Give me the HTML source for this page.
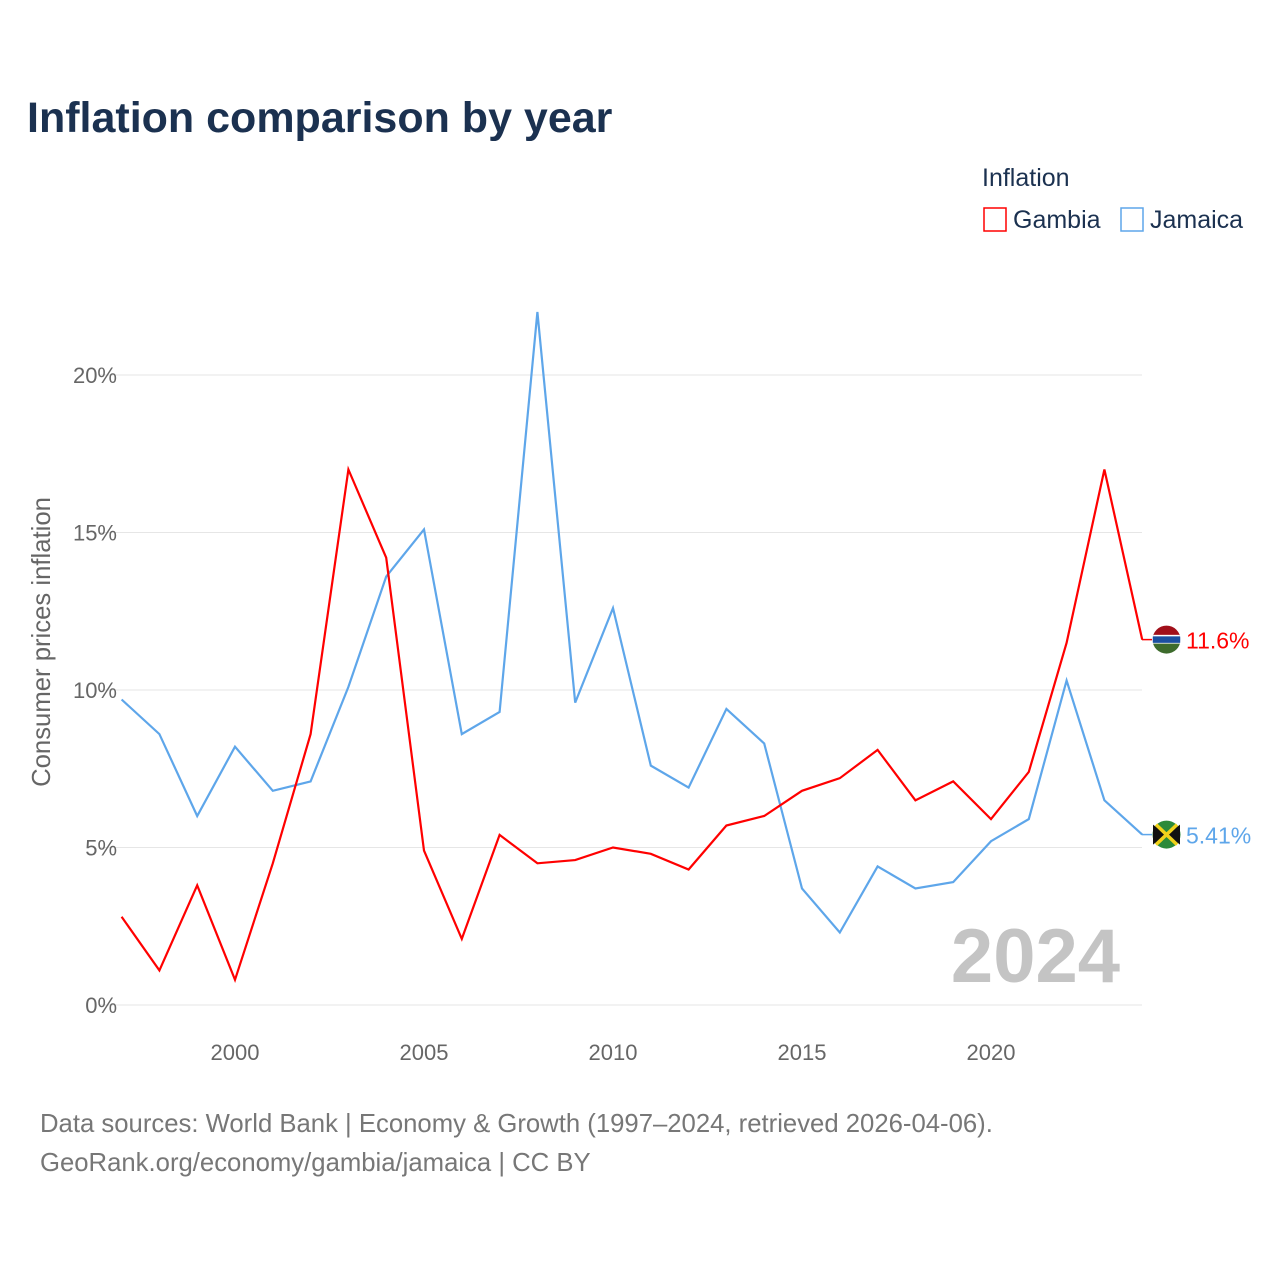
<!DOCTYPE html>
<html><head><meta charset="utf-8">
<style>
body{margin:0;background:#fff;font-family:"Liberation Sans",sans-serif;}
#wrap{position:relative;width:1280px;height:1280px;}
</style></head>
<body><div id="wrap">
<svg id="chart" width="1280" height="1280" xmlns="http://www.w3.org/2000/svg">
<defs><clipPath id="gclip"><circle id="gcirc" cx="1166.5" cy="0" r="14"/></clipPath></defs>
<text x="27" y="132" font-size="43" font-weight="bold" fill="#1b3150">Inflation comparison by year</text>
<text x="982" y="186" font-size="25" fill="#1b3150">Inflation</text>
<g><rect x="984" y="208" width="22" height="23" fill="none" stroke="#ff0000" stroke-width="1.5"/><text x="1013" y="228" font-size="25" fill="#1b3150">Gambia</text></g>
<g><rect x="1121" y="208" width="22" height="23" fill="none" stroke="#5ea6ea" stroke-width="1.5"/><text x="1150" y="228" font-size="25" fill="#1b3150">Jamaica</text></g>
<text transform="translate(50,642) rotate(-90)" text-anchor="middle" font-size="25.7" fill="#666">Consumer prices inflation</text>
<g id="grid"></g><g id="yt"></g><g id="xt"></g>
<text x="1120" y="982" text-anchor="end" font-size="76" font-weight="bold" fill="#c4c4c4">2024</text>
<g id="series"></g>
<text x="40" y="1132" font-size="25.7" fill="#777">Data sources: World Bank | Economy &amp; Growth (1997–2024, retrieved 2026-04-06).</text>
<text x="40" y="1171" font-size="25.7" fill="#777">GeoRank.org/economy/gambia/jamaica | CC BY</text>
</svg></div>
<script>
const years=[1997,1998,1999,2000,2001,2002,2003,2004,2005,2006,2007,2008,2009,2010,2011,2012,2013,2014,2015,2016,2017,2018,2019,2020,2021,2022,2023,2024];
const gambia=[2.8,1.1,3.8,0.8,4.5,8.6,17.0,14.2,4.9,2.1,5.4,4.5,4.6,5.0,4.8,4.3,5.7,6.0,6.8,7.2,8.1,6.5,7.1,5.9,7.4,11.5,17.0,11.6];
const jamaica=[9.7,8.6,6.0,8.2,6.8,7.1,10.1,13.6,15.1,8.6,9.3,22.0,9.6,12.6,7.6,6.9,9.4,8.3,3.7,2.3,4.4,3.7,3.9,5.2,5.9,10.3,6.5,5.41];
const yTicks=[0,5,10,15,20];
const xTicks=[2000,2005,2010,2015,2020];
const X=y=>121.6+(y-1997)*37.8;
const Y=v=>1005-v*31.5;
const NS="http://www.w3.org/2000/svg";
function mk(t,a,p){const e=document.createElementNS(NS,t);for(const k in a)e.setAttribute(k,a[k]);p.appendChild(e);return e;}
const grid=document.getElementById('grid'),yt=document.getElementById('yt'),xt=document.getElementById('xt'),ser=document.getElementById('series');
yTicks.forEach(v=>{
 const l=mk('line',{x1:100,x2:1142,y1:Y(v),y2:Y(v),stroke:'#e6e6e6','stroke-width':1},grid);
 
 
 const t=mk('text',{x:117,y:Y(v)+8,'text-anchor':'end','font-size':22,fill:'#666'},yt);
 t.textContent=v+'%';
 
 
});
xTicks.forEach(y=>{
 const t=mk('text',{x:X(y),y:1060,'text-anchor':'middle','font-size':22,fill:'#666'},xt);
 t.textContent=y;
 
 
});
function line(vals,color,name,label){
 const d=vals.map((v,i)=>(i?'L':'M')+X(years[i]).toFixed(1)+','+Y(v).toFixed(1)).join('');
 const p=mk('path',{d:d,fill:'none',stroke:color,'stroke-width':2.2,'stroke-linejoin':'miter'},ser);
 
 
 const last=vals[vals.length-1],yy=Y(last);
 mk('line',{x1:1142,x2:1152,y1:yy,y2:yy,stroke:color,'stroke-width':1.5},ser);
 const g=mk('g',{},ser);
 
 
 if(name==='gambia'){
  document.getElementById('gcirc').setAttribute('cy',yy);
  g.setAttribute('clip-path','url(#gclip)');
  mk('rect',{x:1152,y:yy-15,width:29,height:11,fill:'#a10f1a'},g);
  mk('rect',{x:1152,y:yy-4,width:29,height:8,fill:'#1b4fa0',stroke:'#fff','stroke-width':1.5},g);
  mk('rect',{x:1152,y:yy+4,width:29,height:11,fill:'#3d6b2c'},g);
 }else{
  mk('circle',{cx:1166.5,cy:yy,r:14,fill:'#2c8a3a'},g);
  mk('path',{d:`M1153,${yy-10}L1166,${yy}L1153,${yy+10}Z M1180,${yy-10}L1167,${yy}L1180,${yy+10}Z`,fill:'#111'},g);
  mk('path',{d:`M1156,${yy-10}L1177,${yy+10}M1177,${yy-10}L1156,${yy+10}`,stroke:'#f2d21b','stroke-width':3.5},g);
 }
 const t=mk('text',{x:1186,y:yy+9,'font-size':23,fill:color},ser);
 t.textContent=label;
 
 
}
line(jamaica,'#5ea6ea','jamaica','5.41%');
line(gambia,'#ff0000','gambia','11.6%');
</script>
</body></html>
